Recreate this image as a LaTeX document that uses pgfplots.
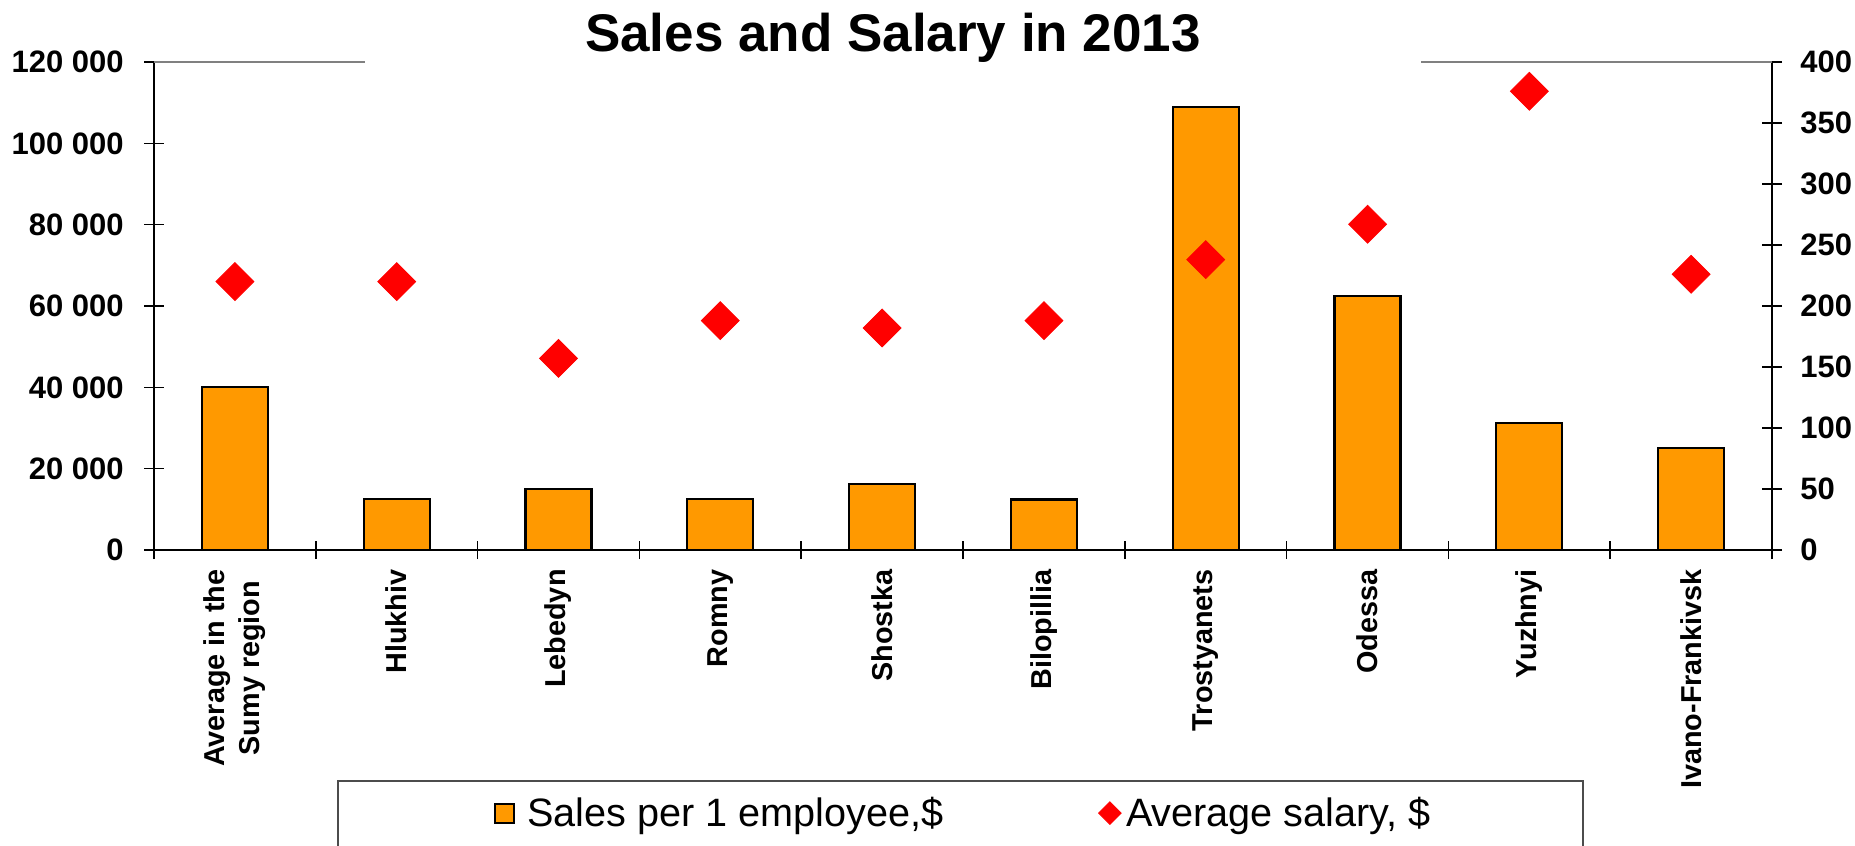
\documentclass[border=0pt]{standalone}
\usepackage{pgfplots}
\pgfplotsset{compat=1.18}
\usepackage{pgfplotstable}
\usepackage{fontspec}
\setmainfont{Liberation Sans}
\definecolor{barorange}{HTML}{FF9900}

% sales per employee ($) and average salary ($) per town
\pgfplotstableread{
x sales salary
0 40000 220
1 12500 220
2 15000 157
3 12500 188
4 16200 182
5 12400 188
6 109000 238
7 62500 267
8 31300 376
9 25000 226
}\chartdata

\pgfplotsset{
  common/.style={
    scale only axis, width=809pt, height=244pt,
    xmin=-0.5, xmax=9.5,
    every non boxed x axis/.append style={x axis line style=-},
    every non boxed y axis/.append style={y axis line style=-},
    axis line style={black, line width=0.9pt},
    tick style={black, line width=0.8pt},
    ytick align=center, major tick length=10pt,
  },
  barlegend/.style={legend image code/.code={%
    \draw[##1] (0pt,-4.75pt) rectangle (9.5pt,4.75pt);
    \path (13.5pt,0pt);}},
  dialegend/.style={legend image code/.code={\draw[##1, mark size=4pt] plot coordinates {(0.3cm,0pt)};}},
}

\begin{document}
\begin{tikzpicture}
\begin{axis}[common,
  ymin=0, ymax=120000,
  axis x line=bottom, axis y line=left,
  xtick={0,...,9},
  xticklabels={{Average in the\\Sumy region},Hlukhiv,Lebedyn,Romny,Shostka,Bilopillia,Trostyanets,Odessa,Yuzhnyi,Ivano-Frankivsk},
  major x tick style={draw=none},
  minor xtick={-0.5,0.5,...,9.5},
  xtick align=center, minor tick length=9pt,
  xticklabel shift=4.5pt,
  xticklabel style={rotate=90, anchor=east, align=center, inner sep=0pt,
    font=\fontsize{14.4}{17.5}\selectfont\bfseries},
  ytick={0,20000,...,120000},
  yticklabels={0,20 000,40 000,60 000,80 000,100 000,120 000},
  scaled y ticks=false,
  yticklabel style={anchor=east, inner sep=0pt, xshift=-10pt,
    font=\fontsize{15.5}{18}\selectfont\bfseries},
]
\addplot[ybar, bar width=33pt, fill=barorange, draw=black, line width=1.1pt]
  table[x=x, y=sales] {\chartdata};
\end{axis}

\begin{axis}[common,
  ymin=0, ymax=400,
  axis x line=none, axis y line=right,
  ytick={0,50,...,400},
  yticklabels={0,50,100,150,200,250,300,350,400},
  yticklabel style={anchor=west, inner sep=0pt, xshift=9pt,
    font=\fontsize{15.5}{18}\selectfont\bfseries},
  legend columns=2,
  legend style={at={(0.2096,-0.539)}, anchor=west, draw=none, fill=none,
    inner sep=0pt, font=\fontsize{19.8}{22}\selectfont,
    nodes={inner xsep=2.5pt},
    /tikz/every even column/.append style={column sep=75pt}},
]
\addlegendimage{draw=black, fill=barorange, line width=1pt, barlegend}
\addlegendentry{Sales per 1 employee,\$}
\addplot[only marks, mark=square*, mark size=6.7pt,
  mark options={rotate=45, fill=red, draw=red}, dialegend]
  table[x=x, y=salary] {\chartdata};
\addlegendentry{Average salary, \$}
\end{axis}

\draw[gray, line width=1pt] (0pt,244pt) -- (809pt,244pt);
\node[fill=white, minimum width=528pt, anchor=base, inner sep=3pt,
  font=\fontsize{26.5}{30}\selectfont\bfseries] at (369.5pt,249.2pt) {Sales and Salary in 2013};
\draw[black!70, line width=0.8pt] (92pt,-115.5pt) rectangle (714.5pt,-170pt);

\pgfresetboundingbox
\useasboundingbox (-77pt,-147.5pt) rectangle (850.5pt,275pt);
\end{tikzpicture}
\end{document}
